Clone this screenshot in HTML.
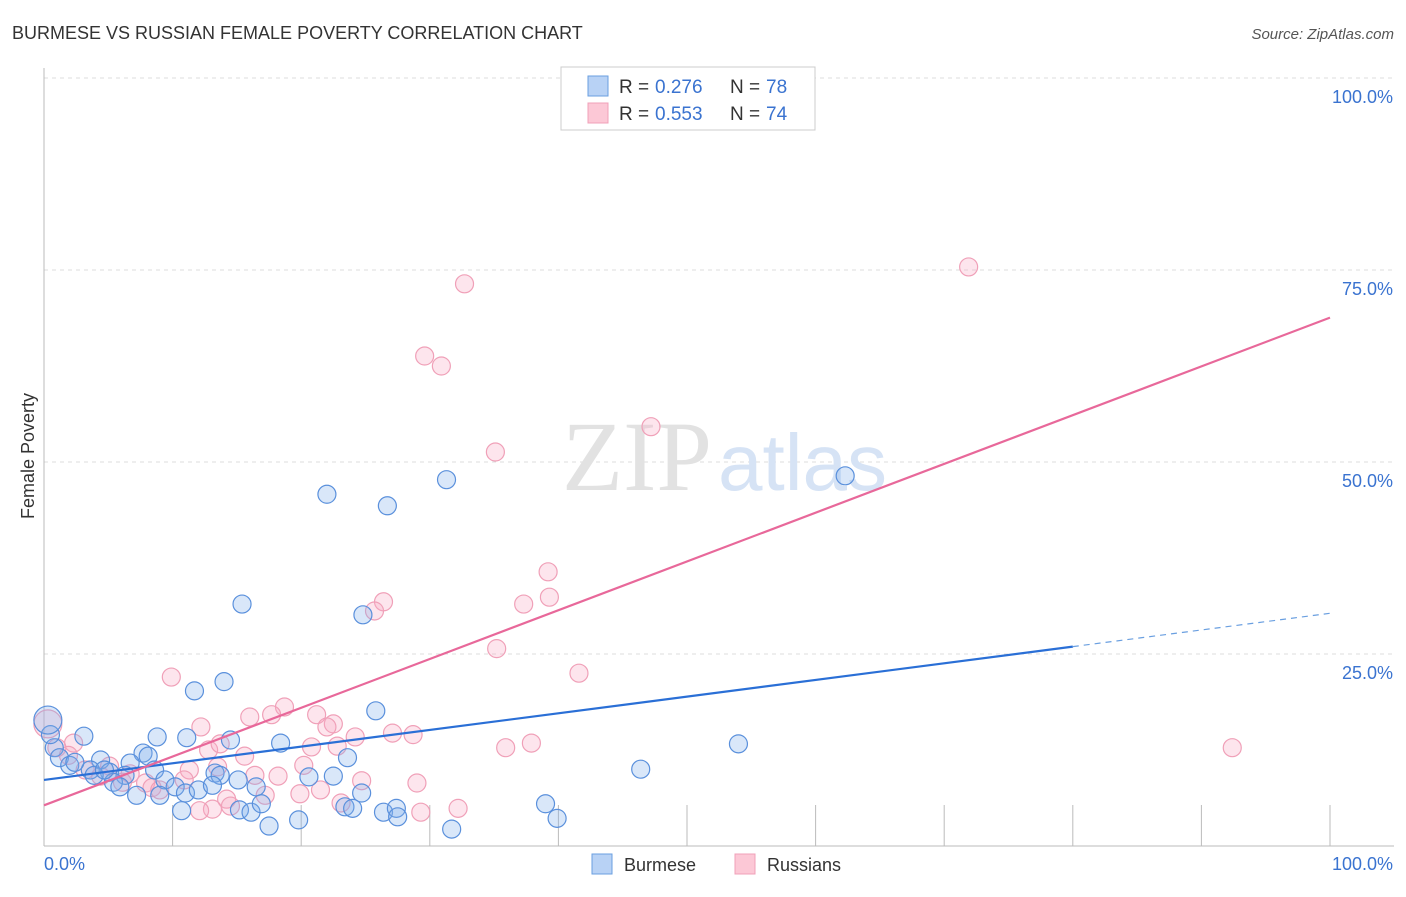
<!DOCTYPE html>
<html><head><meta charset="utf-8"><style>
body{margin:0;background:#fff;font-family:"Liberation Sans",sans-serif}
svg text{font-family:"Liberation Sans",sans-serif}
</style></head><body>
<svg id="chart" width="1406" height="892" xmlns="http://www.w3.org/2000/svg">
<text x="12" y="39" font-size="18" fill="#333">BURMESE VS RUSSIAN FEMALE POVERTY CORRELATION CHART</text>
<text x="1394" y="39" font-size="15" fill="#555" font-style="italic" text-anchor="end">Source: ZipAtlas.com</text>
<g id="grid"></g>
<g>
<text x="712" y="490" font-size="100" fill="#e2e2e2" text-anchor="end" style="font-family:'Liberation Serif',serif">ZIP</text>
<text x="718" y="490" font-size="80" fill="#d6e3f5">atlas</text>
</g>
<text transform="translate(34,456) rotate(-90)" font-size="18" fill="#333" text-anchor="middle">Female Poverty</text>
<g id="points"></g>
<g id="trends"></g>
<g>
<rect x="561" y="67" width="254" height="63" fill="#fff" stroke="#ccc"/>
<rect x="588" y="76" width="20" height="20" fill="#b8d2f5" stroke="#6a9fe0"/>
<text x="619" y="93" font-size="19" fill="#333">R =</text>
<text x="655" y="93" font-size="19" fill="#3a73d0">0.276</text>
<text x="730" y="93" font-size="19" fill="#333">N =</text>
<text x="766" y="93" font-size="19" fill="#3a73d0">78</text>
<rect x="588" y="103" width="20" height="20" fill="#fcc8d6" stroke="#f0a0b8"/>
<text x="619" y="120" font-size="19" fill="#333">R =</text>
<text x="655" y="120" font-size="19" fill="#3a73d0">0.553</text>
<text x="730" y="120" font-size="19" fill="#333">N =</text>
<text x="766" y="120" font-size="19" fill="#3a73d0">74</text>
</g>
<g>
<rect x="592" y="854" width="20" height="20" fill="#b8d2f5" stroke="#6a9fe0"/>
<text x="624" y="871" font-size="18" fill="#333">Burmese</text>
<rect x="735" y="854" width="20" height="20" fill="#fcc8d6" stroke="#f0a0b8"/>
<text x="767" y="871" font-size="18" fill="#333">Russians</text>
</g>
</svg>
<script>
const blueX=[22.0,26.7,31.3,62.3,15.4,24.8,11.7,14.0,25.8,54.0,46.4,3.1,8.8,11.1,14.5,18.4,23.6,7.7,8.1,4.4,6.7,0.8,1.2,2.0,3.6,5.1,6.3,8.6,9.4,13.3,13.7,15.1,20.6,22.5,5.4,5.9,7.2,9.0,10.2,11.0,12.0,13.1,16.5,24.7,10.7,15.2,16.1,16.9,17.5,19.8,23.4,24.0,26.4,27.4,27.5,31.7,39.0,39.9,0.5,0.3,2.4,3.9,4.7];
const blueY=[45.8,44.3,47.7,48.2,31.5,30.1,20.2,21.4,17.6,13.3,10.0,14.3,14.2,14.1,13.8,13.4,11.5,12.1,11.7,11.2,10.8,12.8,11.5,10.5,9.9,9.6,9.2,9.9,8.6,9.5,9.2,8.6,9.0,9.1,8.3,7.7,6.6,6.6,7.7,6.9,7.3,7.9,7.7,6.9,4.6,4.7,4.4,5.5,2.6,3.4,5.1,4.9,4.4,4.9,3.8,2.2,5.5,3.6,14.5,16.4,10.9,9.2,9.9];
const pinkX=[71.9,32.7,29.6,30.9,47.2,35.1,39.2,39.3,37.3,26.4,25.7,35.2,41.6,9.9,18.7,16.0,17.7,21.2,22.5,22.0,12.2,27.1,28.7,24.2,37.9,35.9,92.4,20.8,22.8,12.8,13.7,15.6,2.3,1.0,1.9,20.2,11.3,13.5,16.4,18.2,24.7,29.0,6.7,4.4,7.9,8.4,10.9,9.0,6.1,19.9,21.5,17.2,14.2,14.5,13.1,12.1,23.1,29.3,32.2,0.3,3.2,5.1];
const pinkY=[75.4,73.2,63.8,62.5,54.6,51.3,35.7,32.4,31.5,31.8,30.6,25.7,22.5,22.0,18.1,16.8,17.1,17.1,15.9,15.5,15.5,14.7,14.5,14.2,13.4,12.8,12.8,12.9,13.0,12.5,13.3,11.7,13.4,12.8,11.8,10.5,9.9,10.3,9.2,9.1,8.5,8.2,9.4,9.1,8.2,7.6,8.6,7.3,8.3,6.8,7.3,6.6,6.1,5.2,4.8,4.6,5.6,4.4,4.9,15.9,9.9,10.4];
const blueTrend=[8.6,30.3];
const pinkTrend=[5.3,68.8];
const yTicks=[25,50,75,100];
const yTickLabels=["25.0%","50.0%","75.0%","100.0%"];
const xTicks=[10,20,30,40,50,60,70,80,90,100];
const NS="http://www.w3.org/2000/svg";
const X=v=>44+v*12.86, Y=v=>846-v*7.68;
function mk(tag,attrs,parent){const e=document.createElementNS(NS,tag);for(const k in attrs)e.setAttribute(k,attrs[k]);parent.appendChild(e);return e;}
const grid=document.getElementById('grid');
yTicks.forEach((t,i)=>{
 const l=mk('line',{x1:44,x2:1394,y1:Y(t),y2:Y(t),stroke:'#ddd','stroke-dasharray':'4,4'},grid);
 
 
 const tx=mk('text',{x:1393,y:Y(t)+25,'font-size':18,fill:'#3a73d0','text-anchor':'end'},grid);
 tx.textContent=yTickLabels[i];
 
 
});
const ax=mk('line',{x1:44,x2:44,y1:68,y2:846,stroke:'#bbb'},grid);


const bx=mk('line',{x1:44,x2:1394,y1:846,y2:846,stroke:'#bbb'},grid);


xTicks.forEach(t=>{
 const l=mk('line',{x1:X(t),x2:X(t),y1:805,y2:846,stroke:'#bbb'},grid);
 
 
});
const x0=mk('text',{x:44,y:870,'font-size':18,fill:'#3a73d0'},grid);x0.textContent='0.0%';


const x1=mk('text',{x:1393,y:870,'font-size':18,fill:'#3a73d0','text-anchor':'end'},grid);x1.textContent='100.0%';


const pts=document.getElementById('points');
pinkX.forEach((v,i)=>{
 const c=mk('circle',{cx:X(v),cy:Y(pinkY[i]),r:(v<0.5?14:9),fill:'rgba(248,170,195,0.3)',stroke:'#f0a0b8','stroke-width':1.2},pts);
 
 
});
blueX.forEach((v,i)=>{
 const c=mk('circle',{cx:X(v),cy:Y(blueY[i]),r:(v<0.5&&blueY[i]>16?14:9),fill:'rgba(130,175,235,0.3)',stroke:'#5a90dc','stroke-width':1.2},pts);
 
 
});
const tr=document.getElementById('trends');
const bEnd=80;
const b1=mk('line',{x1:X(0),y1:Y(blueTrend[0]),x2:X(bEnd),y2:Y(blueTrend[0]+(blueTrend[1]-blueTrend[0])*bEnd/100),stroke:'#2a6fd6','stroke-width':2.2},tr);


const b2=mk('line',{x1:X(bEnd),y1:Y(blueTrend[0]+(blueTrend[1]-blueTrend[0])*bEnd/100),x2:X(100),y2:Y(blueTrend[1]),stroke:'#6a9fe0','stroke-width':1.2,'stroke-dasharray':'6,5'},tr);


const p1=mk('line',{x1:X(0),y1:Y(pinkTrend[0]),x2:X(100),y2:Y(pinkTrend[1]),stroke:'#e8689a','stroke-width':2.2},tr);


</script>
</body></html>
